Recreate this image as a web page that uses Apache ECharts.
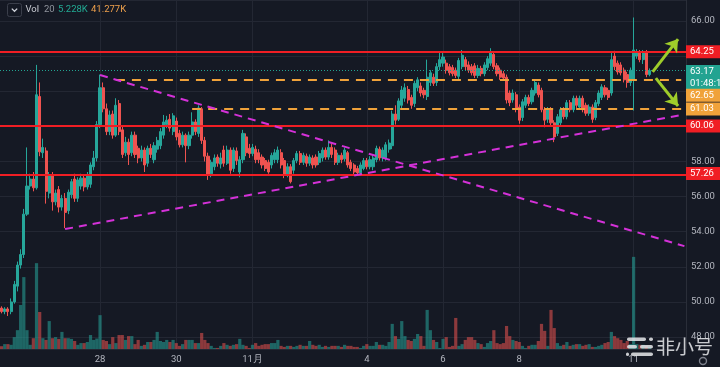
<!DOCTYPE html>
<html><head><meta charset="utf-8">
<script src="https://cdn.jsdelivr.net/npm/echarts@6/dist/echarts.min.js"></script>
<style>html,body{margin:0;padding:0;background:#151924;overflow:hidden}#c{width:720px;height:367px}</style>
</head><body><div id="c"></div>
<script>
// ---------- DATA ----------
// 2h candles, first candle 25 Oct 10:00, [open, close, low, high]
const ohlc = [
[49.65,49.45,49.35,49.75],[49.45,49.6,49.3,49.7],[49.6,49.45,49.2,49.7],[49.45,50.0,49.3,50.2],[50.0,51.0,49.9,51.2],
[50.9,52.1,50.6,52.3],[52.1,52.7,51.9,53.0],[52.7,55.0,52.5,55.3],[55.0,56.6,54.9,58.8],[56.6,57.0,56.4,57.3],
[57.0,56.5,56.3,57.4],[56.5,61.8,56.4,63.5],[61.7,58.55,58.3,62.5],[58.5,58.8,58.2,59.3],[58.6,56.3,55.6,58.8],
[56.2,57.2,55.9,57.4],[57.2,55.7,55.2,57.4],[55.7,56.2,55.5,56.4],[56.4,55.4,55.1,56.6],[55.4,55.9,55.2,56.1],
[55.9,55.1,54.2,56.2],[55.2,56.25,55.0,56.4],[56.1,56.85,55.9,57.0],[57.0,55.9,55.7,57.3],[55.9,56.95,55.7,57.1],
[56.6,57.05,56.4,57.3],[57.05,56.55,56.3,57.2],[56.55,57.25,56.4,57.4],[56.7,57.8,56.5,57.95],[57.7,58.2,57.5,58.6],
[58.2,60.1,58.0,60.3],[60.1,62.2,59.9,62.95],[62.2,61.0,60.8,62.5],[61.0,59.7,59.5,61.3],[59.7,60.65,59.5,60.9],
[60.7,59.5,59.3,60.9],[59.5,61.2,59.4,61.6],[61.3,59.7,59.5,61.5],[59.8,58.4,58.2,60.0],[58.5,59.1,58.3,59.4],
[59.1,58.4,57.8,59.3],[58.5,59.5,58.3,59.7],[59.5,58.4,58.2,59.7],[58.75,58.2,57.9,58.9],[58.2,58.65,58.0,58.9],
[58.65,57.8,57.4,58.8],[57.9,58.75,57.7,58.9],[58.75,58.4,58.2,59.0],[58.1,58.9,57.9,59.1],[58.7,59.2,58.5,59.4],
[58.9,59.7,58.7,59.9],[59.5,60.25,59.3,60.65],[60.1,60.35,59.9,60.6],[60.4,59.9,59.7,60.7],[59.7,60.6,59.5,60.75],
[60.3,59.4,59.2,60.5],[59.6,58.95,58.8,59.8],[58.95,59.5,58.8,59.7],[59.5,58.9,57.95,59.6],[58.9,59.5,58.7,59.7],
[59.5,60.25,59.3,60.8],[60.25,59.7,59.5,60.4],[59.6,61.05,59.4,61.2],[61.0,59.2,59.0,61.1],[59.2,58.3,58.0,59.4],
[58.3,57.25,56.95,58.5],[57.3,57.95,57.1,58.1],[57.7,58.2,57.5,58.4],[58.25,57.9,57.7,58.4],[57.85,58.2,57.6,58.5],
[58.65,57.9,57.7,58.9],[57.9,58.65,57.8,58.9],[58.65,57.5,57.3,58.8],[57.6,58.65,57.4,58.8],[58.6,58.05,57.8,58.8],
[57.4,58.1,57.1,58.3],[58.1,59.6,57.9,59.8],[59.4,58.5,58.3,59.6],[58.75,58.45,58.2,59.0],[58.45,58.8,58.3,59.0],
[58.7,58.1,57.9,58.9],[58.5,58.1,57.9,58.7],[58.25,57.8,57.6,58.4],[58.05,57.6,57.45,58.2],[57.95,57.4,57.3,58.1],
[57.8,58.35,57.6,58.5],[58.1,58.5,57.9,58.7],[58.1,58.65,57.9,58.85],[58.5,57.8,57.6,58.7],[58.05,57.25,57.05,58.2],
[57.25,57.7,57.1,57.9],[57.7,56.85,56.75,57.85],[57.5,58.05,57.3,58.2],[58.05,58.45,57.9,58.6],[58.45,57.95,57.8,58.6],
[57.95,58.35,57.8,58.5],[58.3,57.9,57.7,58.45],[57.9,58.25,57.75,58.4],[58.2,57.8,57.6,58.35],[58.25,57.8,57.65,58.4],
[57.95,58.45,57.8,58.6],[58.2,58.65,58.0,58.8],[58.65,58.25,58.1,58.8],[58.25,58.8,58.1,59.2],[58.8,58.4,58.2,59.0],
[58.65,57.95,57.8,58.8],[57.95,58.35,57.8,58.5],[58.35,58.1,57.9,58.5],[58.15,58.65,58.0,58.8],[58.5,57.8,57.65,58.6],
[57.95,57.6,57.45,58.1],[57.8,57.4,57.2,57.9],[57.6,57.35,57.2,57.75],[57.35,57.8,57.2,57.95],[57.6,58.05,57.5,58.2],
[58.05,57.7,57.55,58.2],[57.7,58.1,57.55,58.3],[57.7,58.2,57.5,58.35],[58.1,58.75,57.95,58.9],[58.7,58.2,58.05,58.85],
[58.2,58.65,58.0,58.8],[58.2,58.95,58.05,59.1],[58.7,59.05,58.5,59.25],[58.9,60.7,58.7,60.9],[60.7,60.35,60.1,61.2],
[60.4,61.45,60.3,61.6],[61.2,62.07,61.0,62.3],[61.6,62.2,61.4,62.45],[62.1,61.5,61.3,62.3],[61.65,61.2,61.0,61.8],
[61.3,62.45,61.1,62.6],[62.2,62.65,62.0,62.8],[62.3,61.9,61.7,62.5],[62.05,61.8,61.6,62.2],[61.7,62.8,61.5,63.8],
[62.5,63.05,62.3,63.2],[62.8,62.45,62.3,63.0],[62.5,63.4,62.3,63.6],[63.4,63.8,63.2,64.2],[63.6,63.95,63.4,64.2],
[63.6,63.2,63.0,63.8],[63.4,63.05,62.9,63.55],[63.35,63.0,62.85,63.5],[63.2,62.9,62.75,63.35],[62.85,63.75,62.7,63.9],
[63.4,64.05,63.25,64.35],[63.8,63.4,63.2,63.95],[63.5,63.2,63.05,63.7],[63.4,63.05,62.9,63.55],[63.45,62.9,62.75,63.6],
[62.9,63.3,62.75,63.5],[63.3,63.0,62.85,63.45],[63.0,63.5,62.85,63.65],[63.35,63.85,63.2,64.0],[63.6,64.2,63.45,64.45],
[64.1,63.4,63.25,64.25],[63.45,63.0,62.85,63.6],[63.2,62.8,62.65,63.35],[63.0,62.75,62.6,63.15],[62.8,61.5,61.3,62.95],
[61.9,61.35,61.15,62.05],[61.5,61.9,61.35,62.1],[61.8,61.05,60.8,61.95],[61.1,60.35,60.15,61.25],[60.5,61.4,60.3,61.55],
[61.2,61.65,61.05,61.8],[61.65,61.3,61.15,61.8],[61.4,62.05,61.25,62.2],[61.9,62.5,61.75,62.65],[62.35,61.8,61.65,62.5],
[62.05,60.95,60.8,62.2],[60.95,60.35,59.95,61.1],[60.4,60.95,60.2,61.1],[60.95,60.2,60.05,61.1],[60.2,59.4,59.1,60.35],
[59.6,60.55,59.45,60.7],[60.2,60.95,60.0,61.1],[60.95,60.55,60.4,61.1],[60.55,61.35,60.4,61.5],[61.35,60.95,60.8,61.5],
[60.95,61.6,60.8,61.75],[61.6,61.2,61.05,61.75],[61.1,61.6,60.95,61.75],[61.6,60.95,60.8,61.75],[61.2,60.75,60.6,61.35],
[60.75,61.1,60.6,61.25],[61.1,60.4,60.2,61.25],[60.5,61.35,60.35,61.5],[61.3,61.9,61.15,62.05],[61.65,62.25,61.5,62.4],
[62.2,61.8,61.65,62.35],[62.05,61.65,61.5,62.2],[61.9,63.8,61.75,64.2],[64.0,63.4,63.2,64.3],[63.6,63.1,62.95,63.75],
[63.5,63.05,62.9,63.65],[63.2,62.65,62.5,63.35],[62.95,62.5,62.2,63.1],[62.5,63.2,62.3,63.35],[62.65,64.35,60.9,66.2],
[64.0,64.25,63.85,64.4],[64.25,63.8,63.65,64.35],[63.8,64.25,63.55,64.35],[64.25,62.95,62.8,64.35],[62.95,63.17,62.85,63.3]
];
// volume (K)
const volumes = [
8,14,14,12,34,54,126,206,54,12, 31,246,106,31,26,80,31,34,29,49,
31,31,29,23,12,17,17,20,40,26, 30,97,26,23,14,34,17,40,40,26,
37,37,14,26,9,12,20,20,26,49, 23,20,26,20,26,17,9,14,26,26,
26,17,17,46,26,17,9,3,3,9, 17,12,9,12,14,29,12,9,3,12,
17,9,12,14,14,17,17,26,9,6, 9,9,6,9,12,9,9,23,12,9,
12,6,9,6,9,9,9,6,12,9, 9,6,6,3,9,14,9,9,20,12,
12,9,20,72,37,29,80,37,26,23, 29,43,37,9,112,54,26,20,3,29,
34,6,9,89,9,14,26,34,34,26, 17,14,6,17,23,54,17,14,17,66,
37,26,23,20,9,3,9,12,12,23, 72,52,9,112,60,17,9,12,20,9,
12,14,14,9,12,14,6,6,9,12, 17,20,49,37,31,26,17,23,14,264,
14,12,12,9,5.2
];
const tickDays = ['10-28','10-30','11-01','11-04','11-06','11-08','11-11'];
const tickLabels = ['28','30','11月','4','6','8','11'];
const redLevels = [64.25, 60.06, 57.26];
const lastPrice = 63.17;
const countdown = '01:48:19';
const orangeLevels = [62.65, 61.03];
const orangeStart = [36, 60];      // candle index where each dashed level starts
const orangeEnd = 214;
const trendLines = [[[31, 62.92], [215, 53.18]], [[20, 54.15], [215, 60.68]]];
const arrowLines = [[[205, 63.10], [213, 64.97]], [[206, 62.75], [213, 61.16]]];
const volLegend = ['Vol', '20', '5.228K', '41.277K'];
const watermark = '非小号';

// ---------- BUILD ----------
const pad = n => String(n).padStart(2, '0');
const categories = [];
const t0 = Date.UTC(2022, 9, 25, 10);
for (let i = 0; i < 216; i++) {
  const d = new Date(t0 + i * 7200000);
  categories.push(pad(d.getUTCMonth() + 1) + '-' + pad(d.getUTCDate()) + ' ' + pad(d.getUTCHours()) + ':00');
}
const isTick = v => tickDays.indexOf(v.slice(0, 5)) >= 0 && v.slice(6) === '00:00';
const tickLabel = v => { const k = tickDays.indexOf(v.slice(0, 5)); return k >= 0 ? tickLabels[k] : ''; };

const FONT = 'Roboto, "Noto Sans", sans-serif';
const UP = '#26a69a', DOWN = '#ef5350';
const RED = '#f01e24', ORANGE = '#f0a23a', TEAL = '#22a391', MAGENTA = '#d431d8', LIME = '#9fcd2a';
const GRID = '#232733';

const volData = volumes.map((v, i) => ({
  value: v,
  itemStyle: { color: ohlc[i][1] >= ohlc[i][0] ? 'rgba(38,166,154,0.55)' : 'rgba(239,83,80,0.55)' }
}));

const mlData = [];
redLevels.forEach(v => mlData.push({ yAxis: v, lineStyle: { color: RED, width: 2, type: 'solid' } }));
mlData.push({ yAxis: lastPrice, lineStyle: { color: TEAL, width: 1, type: [1, 2] } });
orangeLevels.forEach((v, k) => {
  const ls = { color: ORANGE, width: 2, type: [9, 7] };
  mlData.push([{ coord: [orangeStart[k], v], lineStyle: ls }, { coord: [orangeEnd, v], lineStyle: ls }]);
});
trendLines.forEach(l => {
  const ls = { color: MAGENTA, width: 2, type: [8, 6] };
  mlData.push([{ coord: l[0], lineStyle: ls }, { coord: l[1], lineStyle: ls }]);
});
arrowLines.forEach(l => {
  const ls = { color: LIME, width: 3, type: 'solid' };
  mlData.push([{ coord: l[0], lineStyle: ls, symbol: 'none' },
               { coord: l[1], lineStyle: ls, symbol: 'arrow', symbolSize: 12, itemStyle: { color: LIME } }]);
});

const chart = echarts.init(document.getElementById('c'));
chart.setOption({
  animation: false,
  backgroundColor: '#151924',
  grid: { left: 0, right: 34, top: 0, bottom: 18 },
  xAxis: {
    type: 'category', data: categories, boundaryGap: true,
    axisLine: { show: false }, axisTick: { show: false },
    axisLabel: { interval: (i, v) => isTick(v), formatter: v => tickLabel(v), color: '#b2b5be',
                 fontSize: 9.5, fontFamily: FONT, margin: 6 },
    splitLine: { show: true, alignWithLabel: true, interval: (i, v) => isTick(v), lineStyle: { color: GRID, width: 1 } }
  },
  yAxis: [{
    type: 'value', position: 'right', min: 47.32, max: 67.196, splitNumber: 10, minInterval: 2, maxInterval: 2,
    axisLine: { show: true, lineStyle: { color: '#2a2e39' } }, axisTick: { show: false },
    axisLabel: { color: '#b2b5be', fontSize: 9.5, fontFamily: FONT, margin: 5,
                 formatter: v => v.toFixed(2), showMinLabel: false, showMaxLabel: false },
    splitLine: { lineStyle: { color: GRID, width: 1 } }
  }, { type: 'value', min: 0, max: 1000, show: false }],
  series: [
    { type: 'bar', yAxisIndex: 1, data: volData, barCategoryGap: '0%', barWidth: 3.2, silent: true, z: 1 },
    {
      type: 'candlestick', data: ohlc, barWidth: 2.6, z: 2, silent: true,
      itemStyle: { color: UP, color0: DOWN, borderColor: UP, borderColor0: DOWN, borderWidth: 1 },
      markLine: { silent: true, symbol: ['none', 'none'], label: { show: false }, animation: false,
                  emphasis: { disabled: true }, data: mlData }
    }
  ]
});

// right-side price tags and overlays
const yPix = v => chart.convertToPixel({ yAxisIndex: 0 }, v);
const tags = [
  { v: redLevels[0], t: redLevels[0].toFixed(2), bg: RED, dy: 0 },
  { v: lastPrice, t: lastPrice.toFixed(2), bg: TEAL, dy: 0.8 },
  { v: lastPrice, t: countdown, bg: TEAL, dy: 12.8 },
  { v: orangeLevels[0], t: orangeLevels[0].toFixed(2), bg: ORANGE, dy: 15.5 },
  { v: orangeLevels[1], t: orangeLevels[1].toFixed(2), bg: ORANGE, dy: 0.7 },
  { v: redLevels[1], t: redLevels[1].toFixed(2), bg: RED, dy: 0.6 },
  { v: redLevels[2], t: redLevels[2].toFixed(2), bg: RED, dy: -1 }
];
const g = [];
tags.forEach(tg => {
  const yc = yPix(tg.v) + tg.dy;
  g.push({ type: 'rect', z: 100, shape: { x: 686, y: yc - 6.5, width: 34, height: 13 }, style: { fill: tg.bg } });
  g.push({ type: 'text', z: 101, x: 690, y: yc, style: { text: tg.t, fill: '#ffffff', fontSize: 9.5, fontFamily: FONT,
           verticalAlign: 'middle', align: 'left' } });
});
// Vol legend
g.push({ type: 'rect', z: 100, shape: { x: 7.5, y: 3.5, width: 14, height: 13, r: 2 }, style: { fill: 'none', stroke: '#3b3f4b', lineWidth: 1 } });
g.push({ type: 'polyline', z: 101, shape: { points: [[11.8, 8.6], [14.5, 11.3], [17.2, 8.6]] }, style: { stroke: '#d1d4dc', lineWidth: 1.3, fill: 'none' } });
const legX = [25.5, 44, 58, 91], legC = ['#c9ccd3', '#8f939c', '#22ab94', '#eea04c'];
volLegend.forEach((t, k) => g.push({ type: 'text', z: 101, x: legX[k], y: 9.5,
  style: { text: t, fill: legC[k], fontSize: 9.5, fontFamily: FONT, verticalAlign: 'middle' } }));
// watermark
const wm = 'rgba(225,226,230,0.88)';
[[627, 337.5, 19], [649, 337.5, 4], [627, 345, 10], [640, 345, 13], [626, 352.5, 3], [631, 352.5, 22]].forEach(r =>
  g.push({ type: 'rect', z: 100, shape: { x: r[0], y: r[1], width: r[2], height: 3.5, r: 1.75 }, style: { fill: wm } }));
g.push({ type: 'text', z: 100, x: 656, y: 347, style: { text: watermark, fill: wm, fontSize: 19,
  fontFamily: '"Noto Sans CJK SC", sans-serif', verticalAlign: 'middle' } });
g.push({ type: 'circle', z: 100, shape: { cx: 703, cy: 361, r: 3.5 }, style: { fill: 'none', stroke: '#7d818c', lineWidth: 1.4 } });
chart.setOption({ graphic: g });
</script>
</body></html>
